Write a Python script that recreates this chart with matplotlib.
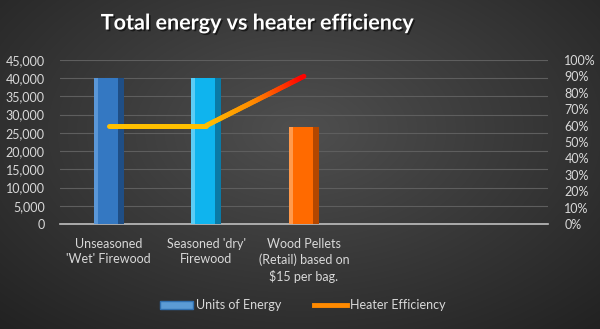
import numpy as np
import matplotlib
matplotlib.use("Agg")
from matplotlib import pyplot as plt
from matplotlib import patheffects as pe
from matplotlib.collections import LineCollection
from matplotlib.colors import LinearSegmentedColormap
from matplotlib.patches import Patch
from matplotlib.lines import Line2D
from matplotlib.ticker import FuncFormatter, PercentFormatter

categories = ["Unseasoned\n'Wet' Firewood", "Seasoned 'dry'\nFirewood",
              "Wood Pellets\n(Retail) based on\n$15 per bag.", "", ""]
energy = [40000, 40000, 26700]
efficiency = [0.60, 0.60, 0.90]
bar_colors = ["#3478C2", "#0FB4EE", "#FF6A00"]
dark_colors = ["#1F4E85", "#0A7AA6", "#B34700"]
light_colors = ["#5A97D8", "#5CCDF5", "#FF9A4D"]

plt.rcParams['font.family'] = ['Lato', 'DejaVu Sans']
txt = "#D9D9D9"

fig = plt.figure(figsize=(6, 3.29), dpi=100)

# background radial gradient
bg = fig.add_axes([0, 0, 1, 1], zorder=-10)
yy, xx = np.mgrid[0:329, 0:600]
r = np.sqrt(((xx - 300) / 420.0) ** 2 + ((yy - 130) / 260.0) ** 2)
shade = np.clip(0.31 - 0.17 * r, 0.12, 0.31)
bg.imshow(np.dstack([shade] * 3), aspect='auto', extent=[0, 1, 0, 1])
bg.axis('off')

ax = fig.add_axes([0.1, 0.319, 0.813, 0.499])
ax.patch.set_alpha(0)
x = np.arange(len(categories))
n = len(energy)
w = 0.31
ax.bar(x[:n], energy, width=w, color=bar_colors, zorder=3)
ax.bar(x[:n] + w * 0.40, energy, width=w * 0.20, color=dark_colors, zorder=4)
ax.bar(x[:n] - w * 0.43, energy, width=w * 0.14, color=light_colors, zorder=4)
ax.set_xlim(-0.5, len(categories) - 0.5)
ax.set_ylim(0, 45000)
ax.set_yticks(np.arange(0, 45001, 5000))
ax.yaxis.set_major_formatter(FuncFormatter(lambda v, p: f"{int(v):,}"))
ax.set_xticks(x)
ax.set_xticklabels(categories, color=txt, fontsize=9.3, va='top', linespacing=1.35)
ax.tick_params(axis='both', length=0, colors=txt, labelsize=9)
ax.tick_params(axis='y', pad=11)
ax.tick_params(axis='x', pad=10)
ax.grid(axis='y', color='#5E5E5E', linewidth=0.8, zorder=0)
for s in ['top', 'right', 'left']:
    ax.spines[s].set_visible(False)
ax.spines['bottom'].set_color('#BFBFBF')
ax.spines['bottom'].set_linewidth(1.2)

ax2 = ax.twinx()
ax2.set_ylim(0, 1)
ax2.set_yticks(np.arange(0, 1.01, 0.1))
ax2.yaxis.set_major_formatter(PercentFormatter(1.0, decimals=0))
ax2.tick_params(axis='y', length=0, colors=txt, labelsize=9, pad=12)
for s in ax2.spines.values():
    s.set_visible(False)

# gradient line coloured by its value
cmap = LinearSegmentedColormap.from_list("heat", ["#FFC000", "#FF8A00", "#FF0000"])
segs, vals = [], []
for i in range(n - 1):
    t = np.linspace(0, 1, 40)
    xs = x[i] + t * (x[i + 1] - x[i])
    ys = efficiency[i] + t * (efficiency[i + 1] - efficiency[i])
    for j in range(len(t) - 1):
        segs.append([(xs[j], ys[j]), (xs[j + 1], ys[j + 1])])
        vals.append((ys[j] + ys[j + 1]) / 2)
lc = LineCollection(segs, cmap=cmap, linewidths=3.6, capstyle='round', zorder=5)
lc.set_array(np.array(vals))
lc.set_clim(min(efficiency), max(efficiency))
ax2.add_collection(lc)

fig.text(0.428, 0.93, "Total energy vs heater efficiency", ha='center', va='center',
         color='white', fontsize=15.5, fontweight='bold',
         path_effects=[pe.withSimplePatchShadow(offset=(1.2, -1.2),
                                                shadow_rgbFace='#111111', alpha=0.8)])

handles = [Patch(facecolor='#5B9BD5', edgecolor='#2F6FB0'),
           Line2D([0], [0], color='#FF8A00', lw=3.5)]
fig.legend(handles, ["Units of Energy", "Heater Efficiency"], loc='center',
           bbox_to_anchor=(0.505, 0.072), ncol=2, frameon=False, fontsize=9,
           labelcolor=txt, handlelength=2.6, handletextpad=0.3, columnspacing=2.6)

fig.savefig("out.png", dpi=100)
